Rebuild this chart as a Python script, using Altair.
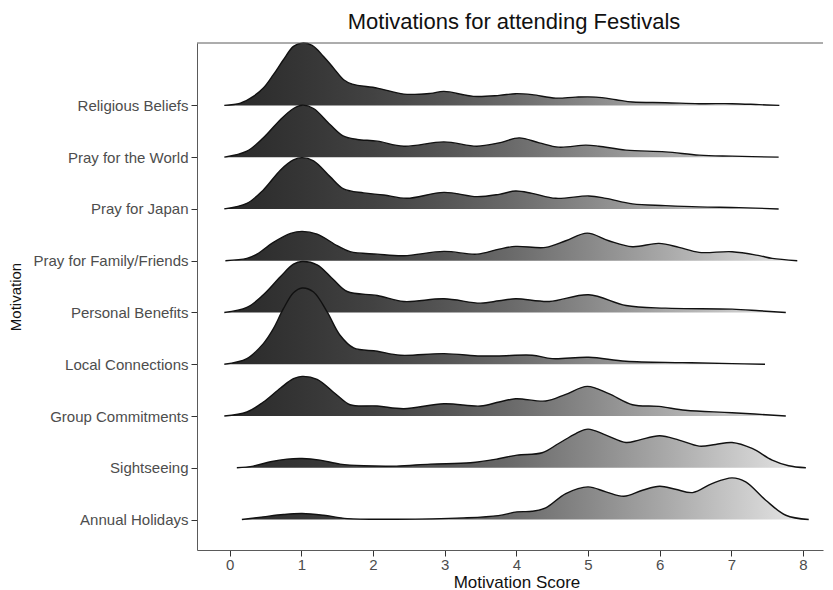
import altair as alt
import pandas as pd

# rows, bottom to top
motivations = ["Annual Holidays", "Sightseeing", "Group Commitments", "Local Connections",
               "Personal Benefits", "Pray for Family/Friends", "Pray for Japan",
               "Pray for the World", "Religious Beliefs"]

# density ridges (score, height in row units)
rb_x = [-0.075, 0.15, 0.33, 0.47, 0.61, 0.75, 0.89, 1.01, 1.15, 1.31, 1.45, 1.59, 1.71, 2.06, 2.43, 2.80,
        2.99, 3.40, 3.76, 3.99, 4.22, 4.55, 4.83, 5.11, 5.39, 5.62, 6.08, 6.55, 7.01, 7.39, 7.67]
rb_h = [0, .044, .174, .334, .593, .882, 1.139, 1.203, 1.158, .946, .720, .496, .411, .334, .218, .232,
        .270, .174, .193, .226, .207, .141, .160, .160, .110, .064, .052, .033, .033, .014, 0]

pw_x = [-0.075, 0.24, 0.47, 0.71, 0.89, 1.01, 1.17, 1.40, 1.59, 1.78, 2.06, 2.43, 2.99, 3.45, 3.76, 4.04,
        4.32, 4.59, 4.97, 5.15, 5.53, 6.08, 6.55, 7.01, 7.66]
pw_h = [0, .116, .373, .728, .940, 1.004, .940, .631, .405, .342, .309, .212, .295, .212, .276, .373,
        .276, .193, .232, .212, .135, .102, .039, .019, 0]

pj_x = [-0.075, 0.24, 0.47, 0.71, 0.89, 1.01, 1.17, 1.40, 1.59, 1.87, 2.15, 2.47, 2.99, 3.45, 3.76, 3.99,
        4.22, 4.55, 5.01, 5.25, 5.62, 6.08, 6.55, 7.11, 7.66]
pj_h = [0, .108, .367, .753, .946, .990, .927, .624, .386, .309, .270, .205, .320, .237, .282, .347,
        .301, .205, .251, .205, .097, .064, .039, .025, 0]

pff_x = [-0.06, 0.24, 0.38, 0.61, 0.85, 1.01, 1.22, 1.50, 1.68, 2.06, 2.43, 2.99, 3.45, 3.76, 3.99, 4.41,
         4.69, 4.99, 5.29, 5.62, 5.99, 6.27, 6.55, 7.01, 7.39, 7.57, 7.92]
pff_h = [0, .044, .127, .353, .527, .566, .514, .290, .174, .127, .097, .180, .127, .224, .276, .257,
         .386, .533, .386, .270, .334, .257, .160, .174, .097, .044, 0]

pb_x = [-0.075, 0.24, 0.47, 0.71, 0.89, 1.01, 1.22, 1.45, 1.64, 2.06, 2.43, 2.99, 3.50, 3.76, 3.99, 4.46,
        5.01, 5.53, 6.08, 7.01, 7.39, 7.76]
pb_h = [0, .097, .342, .695, .932, .985, .921, .631, .405, .328, .212, .264, .180, .226, .264, .212,
        .342, .135, .083, .064, .033, 0]

lc_x = [-0.075, 0.24, 0.47, 0.61, 0.75, 0.89, 1.01, 1.17, 1.36, 1.54, 1.73, 2.06, 2.38, 2.99, 3.50, 3.76,
        4.22, 4.50, 5.01, 5.53, 6.32, 7.01, 7.47]
lc_h = [0, .108, .398, .687, 1.073, 1.382, 1.473, 1.396, 1.010, .560, .315, .251, .174, .205, .160, .160,
        .174, .108, .135, .058, .031, .012, 0]

gc_x = [-0.075, 0.24, 0.47, 0.71, 0.89, 1.01, 1.22, 1.50, 1.68, 2.06, 2.43, 2.99, 3.50, 3.76, 3.99, 4.41,
        4.69, 4.99, 5.29, 5.62, 5.99, 6.36, 7.01, 7.76]
gc_h = [0, .077, .270, .541, .720, .766, .708, .400, .218, .193, .141, .237, .193, .270, .334, .290,
        .419, .573, .431, .218, .187, .110, .064, 0]

ss_x = [0.10, 0.33, 0.57, 0.80, 1.01, 1.26, 1.54, 1.87, 2.33, 2.80, 3.36, 3.75, 4.01, 4.36, 4.59, 4.83,
        5.00, 5.25, 5.53, 5.71, 6.00, 6.27, 6.55, 6.78, 7.01, 7.29, 7.57, 7.80, 8.04]
ss_h = [0, .033, .116, .168, .180, .149, .071, .039, .033, .071, .097, .174, .245, .290, .469, .662,
        .747, .631, .488, .535, .618, .535, .419, .450, .488, .373, .149, .039, 0]

ah_x = [0.17, 0.47, 0.75, 1.01, 1.31, 1.64, 2.33, 3.27, 3.75, 4.01, 4.22, 4.41, 4.69, 5.00, 5.25, 5.50,
        5.76, 6.00, 6.22, 6.46, 6.73, 7.01, 7.20, 7.48, 7.76, 8.08]
ah_h = [0, .052, .097, .116, .083, .019, .006, .033, .077, .149, .160, .226, .502, .631, .535, .450,
        .566, .643, .585, .521, .695, .805, .728, .373, .083, 0]

ridges = {
    "Annual Holidays": (ah_x, ah_h),
    "Sightseeing": (ss_x, ss_h),
    "Group Commitments": (gc_x, gc_h),
    "Local Connections": (lc_x, lc_h),
    "Personal Benefits": (pb_x, pb_h),
    "Pray for Family/Friends": (pff_x, pff_h),
    "Pray for Japan": (pj_x, pj_h),
    "Pray for the World": (pw_x, pw_h),
    "Religious Beliefs": (rb_x, rb_h),
}

x_ticks = [0, 1, 2, 3, 4, 5, 6, 7, 8]
# fill grey level at each integer score
fill_greys = [42, 53, 66, 85, 108, 136, 166, 198, 230]

W, H = 626, 507
FONT = "Liberation Sans"
CURVE = "catmull-rom"


def grey_at(s):
    s = min(max(s, 0.0), 8.0)
    i = min(int(s), 7)
    f = s - i
    g = round(fill_greys[i] + (fill_greys[i + 1] - fill_greys[i]) * f)
    return "#{0:02x}{0:02x}{0:02x}".format(g)


def gradient_for(a, b):
    stops = [alt.GradientStop(offset=0, color=grey_at(a))]
    for s in x_ticks:
        if a < s < b:
            stops.append(alt.GradientStop(offset=(s - a) / (b - a), color=grey_at(s)))
    stops.append(alt.GradientStop(offset=1, color=grey_at(b)))
    return alt.Gradient(gradient="linear", stops=stops, x1=0, x2=1, y1=0, y2=0)


label_expr = "[''," + ",".join("'" + m + "'" for m in motivations) + "][datum.value]"

x_enc = alt.X("x:Q", scale=alt.Scale(domain=[-0.456, 8.279], nice=False, zero=False),
              axis=alt.Axis(values=x_ticks, title="Motivation Score", grid=False, tickSize=6,
                            labelPadding=1, titlePadding=2, titleFontSize=17, titleX=319.5))
y_scale = alt.Scale(domain=[0.412, 10.205], nice=False, zero=False)
y_axis = alt.Axis(values=list(range(1, 10)), labelExpr=label_expr, title="Motivation", grid=False,
                  tickSize=6, labelPadding=3, titlePadding=9, titleFontSize=15)

layers = []
for name in reversed(motivations):  # top row first, lower rows drawn over it
    xs, hs = ridges[name]
    pos = motivations.index(name) + 1
    df = pd.DataFrame({"x": xs, "top": [pos + h for h in hs], "base": [pos] * len(xs)})
    area = alt.Chart(df).mark_area(interpolate=CURVE, color=gradient_for(xs[0], xs[-1]),
                                   opacity=1).encode(
        x=x_enc, y=alt.Y("top:Q", scale=y_scale, axis=y_axis), y2="base:Q")
    line = alt.Chart(df).mark_line(interpolate=CURVE, color="#111111", strokeWidth=1.4).encode(
        x=x_enc, y=alt.Y("top:Q", scale=y_scale, axis=y_axis))
    layers += [area, line]

top_border = alt.Chart(pd.DataFrame({"k": [0]})).mark_rule(color="#5a5a5a", strokeWidth=1).encode(
    x=alt.value(0), x2=alt.value(W), y=alt.value(0))
layers.append(top_border)

chart = alt.layer(*layers).properties(
    width=W, height=H,
    background="white",
    title=alt.Title("Motivations for attending Festivals", fontSize=22, font=FONT,
                    fontWeight="normal", color="#111111", anchor="middle", offset=6, dx=4),
    padding={"left": 0, "top": 3, "right": 0, "bottom": 0},
).configure_view(stroke=None).configure_axis(
    domainColor="#5a5a5a", tickColor="#333333", labelColor="#4d4d4d", labelFont=FONT,
    labelFontSize=15, titleFont=FONT, titleColor="#111111", titleFontWeight="normal",
    domainWidth=1, tickWidth=1,
)

chart.save("out.html", embed_options={"renderer": "svg", "actions": False})
